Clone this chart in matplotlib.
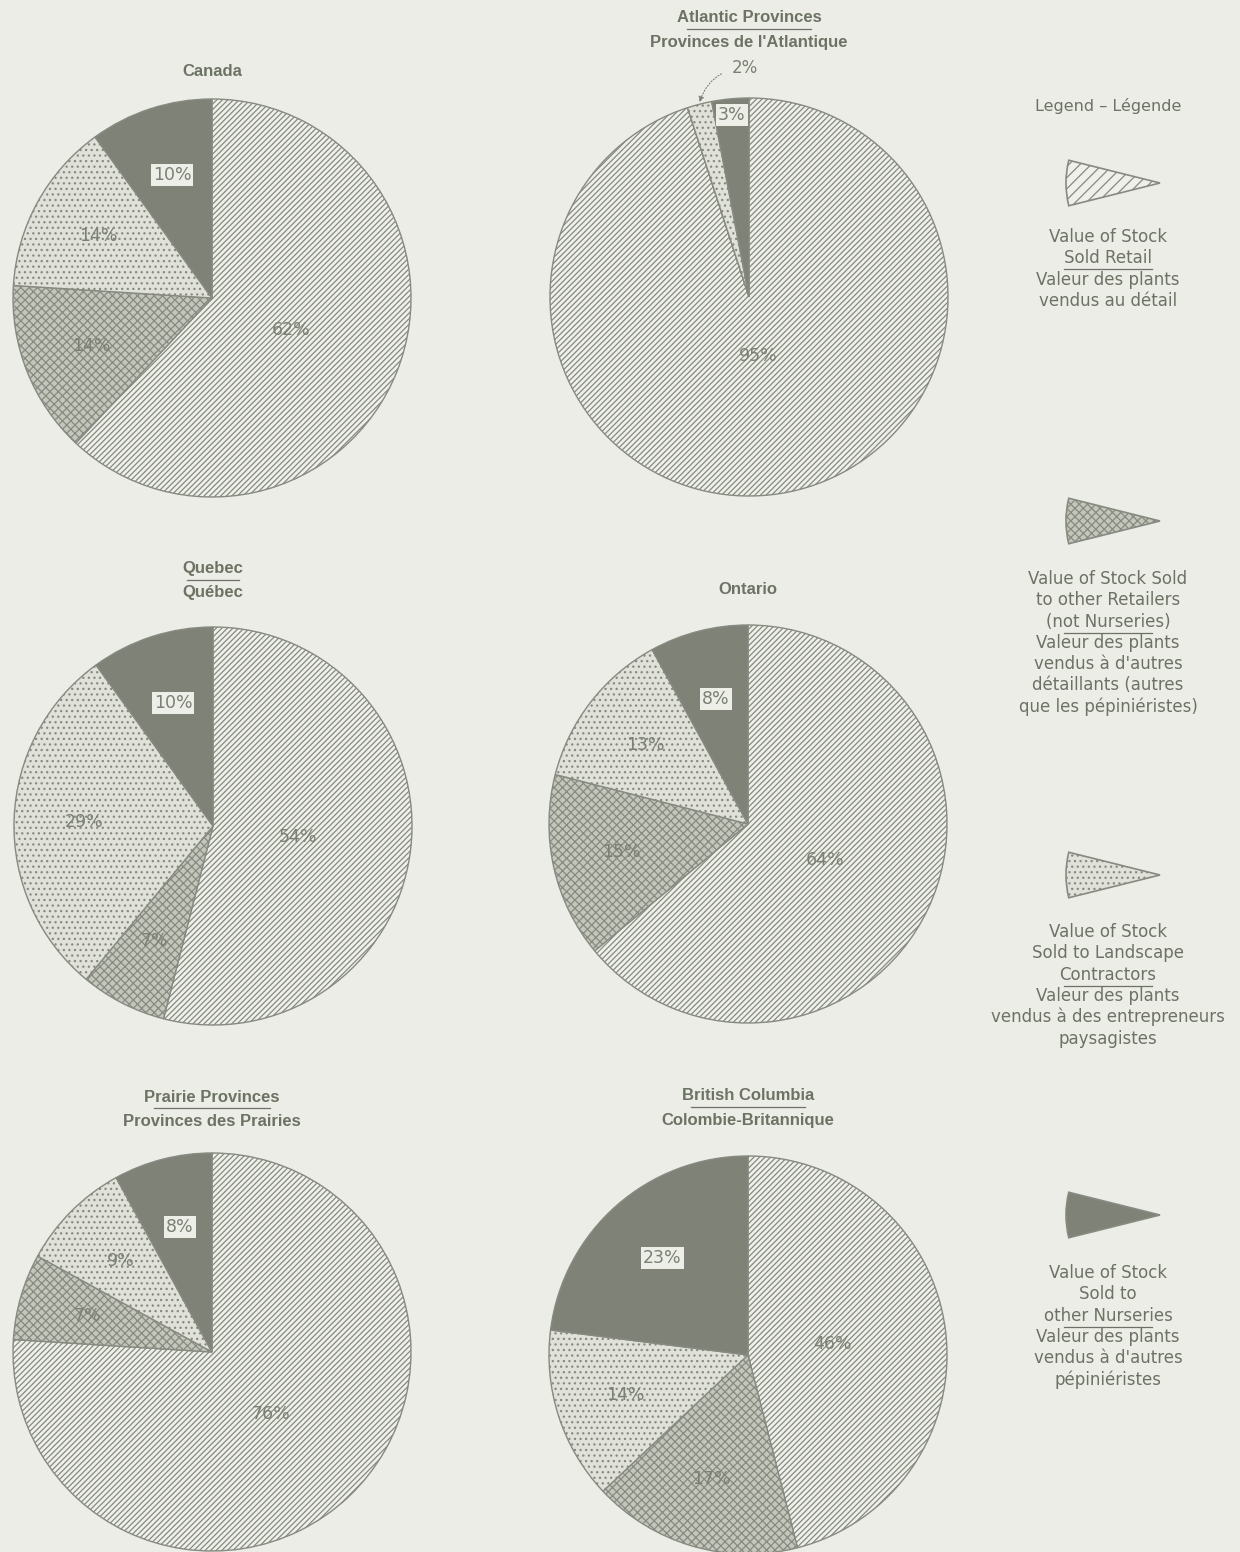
import numpy as np
import matplotlib.pyplot as plt
import matplotlib as mpl
from matplotlib.patches import Wedge

# figure is laid out in pixel units (y measured from the top, flipped on draw)
W, H = 1240, 1552

mpl.rcParams['hatch.linewidth'] = 0.9

# --- data: share of stock value by buyer type (%), clockwise from 12 o'clock
categories = ["Sold Retail", "Other Retailers", "Landscape Contractors", "Other Nurseries"]
canada = [62, 14, 14, 10]
atlantic = [95, 0, 2, 3]
quebec = [54, 7, 29, 10]
ontario = [64, 15, 13, 8]
prairies = [76, 7, 9, 8]
british_columbia = [46, 17, 14, 23]

titles_en = ["Canada", "Atlantic Provinces", "Quebec", "Ontario", "Prairie Provinces", "British Columbia"]
titles_fr = [None, "Provinces de l'Atlantique", "Québec", None, "Provinces des Prairies", "Colombie-Britannique"]
region_values = [canada, atlantic, quebec, ontario, prairies, british_columbia]

legend_lines = [
    ["Value of Stock", "Sold Retail", "Valeur des plants", "vendus au détail"],
    ["Value of Stock Sold", "to other Retailers", "(not Nurseries)", "Valeur des plants",
     "vendus à d'autres", "détaillants (autres", "que les pépiniéristes)"],
    ["Value of Stock", "Sold to Landscape", "Contractors", "Valeur des plants",
     "vendus à des entrepreneurs", "paysagistes"],
    ["Value of Stock", "Sold to", "other Nurseries", "Valeur des plants",
     "vendus à d'autres", "pépiniéristes"],
]
legend_underlined = [1, 2, 2, 2]   # line after which the english/french rule is drawn

# --- styling
BG = "#ecede7"
TXT = "#6c7364"
PCT = "#7a8073"
EDGE = "#868a80"
FACES = ["#eef0e9", "#c3c6bb", "#e0e1d9", "#7e8277"]
HATCHES = ["//////", "xxxx", "...", None]

R = 199
centers = [(212, 298), (749, 297), (213, 826), (748, 824), (212, 1352), (748, 1355)]
title_y = [72, 18, 569, 590, 1097, 1096]


def px(x, y):
    return x, H - y


fig = plt.figure(figsize=(W / 100, H / 100), dpi=100, facecolor=BG)
ax = fig.add_axes([0, 0, 1, 1])
ax.set_facecolor(BG)
ax.set_xlim(0, W)
ax.set_ylim(0, H)
renderer = fig.canvas.get_renderer()

for k, vals in enumerate(region_values):
    cx, cy = centers[k]
    wedges, _ = ax.pie(vals, startangle=90, counterclock=False, center=px(cx, cy), radius=R,
                       colors=FACES, frame=True,
                       wedgeprops=dict(edgecolor=EDGE, linewidth=1.0))
    for w, h in zip(wedges, HATCHES):
        if h:
            w.set_hatch(h)

    # percentage labels
    for i, (w, v) in enumerate(zip(wedges, vals)):
        if v == 0:
            continue
        theta = np.deg2rad((w.theta1 + w.theta2) / 2)
        if v > 90:
            f = 0.30
        elif v >= 40:
            f = 0.43
        elif v < 5:
            f = 0.92
        else:
            f = 0.65
        lx = cx + f * R * np.cos(theta)
        ly = H - cy + f * R * np.sin(theta)
        if v < 5 and i != 3:
            # slim slice: label outside with a dotted leader
            ex = cx + R * np.cos(theta)
            ey = H - cy + R * np.sin(theta)
            ax.annotate(f"{v}%", xy=(ex, ey + 2), xytext=(cx - 4, H - 68),
                        ha="center", va="center", fontsize=12, color=PCT, family="DejaVu Sans",
                        arrowprops=dict(arrowstyle="-|>", color=PCT, lw=0.8, ls=":",
                                        shrinkA=6, shrinkB=0, mutation_scale=8,
                                        connectionstyle="arc3,rad=0.35"))
            continue
        box = None
        if i == 3:
            box = dict(boxstyle="square,pad=0.12", facecolor="#eceee7", edgecolor="none")
        ax.text(lx, ly, f"{v}%", ha="center", va="center", fontsize=12.5, color=PCT,
                family="DejaVu Sans", bbox=box)

    # titles
    ty = title_y[k]
    t = ax.text(*px(cx, ty), titles_en[k], ha="center", va="center", fontsize=12,
                fontweight="bold", color=TXT, family="Liberation Sans")
    if titles_fr[k]:
        half = 0.43 * t.get_window_extent(renderer).width
        ax.plot([cx - half, cx + half], [H - ty - 11, H - ty - 11], color=TXT, lw=0.9)
        ax.text(*px(cx, ty + 24), titles_fr[k], ha="center", va="center", fontsize=12,
                fontweight="bold", color=TXT, family="Liberation Sans")

# --- legend column
LX = 1108
ax.text(*px(LX, 106), "Legend \u2013 Légende", ha="center", va="center", fontsize=11.5,
        color=TXT, family="DejaVu Sans")

tips_y = [183, 521, 875, 1215]
text_y0 = [237, 579, 932, 1273]
PITCH = 21.3
for j in range(4):
    tip = px(1160, tips_y[j])
    wg = Wedge(tip, 94, 166, 194, facecolor=FACES[j], edgecolor=EDGE, lw=1.2,
               hatch=("///" if j == 0 else HATCHES[j]))
    ax.add_patch(wg)
    for n, line in enumerate(legend_lines[j]):
        y = text_y0[j] + n * PITCH
        ax.text(*px(LX, y), line, ha="center", va="center", fontsize=12, color=TXT,
                family="DejaVu Sans")
    uy = text_y0[j] + legend_underlined[j] * PITCH + 11
    ax.plot([LX - 44, LX + 44], [H - uy, H - uy], color=TXT, lw=0.9)

ax.set_xlim(0, W)
ax.set_ylim(0, H)
ax.set_aspect("equal")
ax.axis("off")

fig.savefig("out.png", dpi=100, facecolor=BG)
